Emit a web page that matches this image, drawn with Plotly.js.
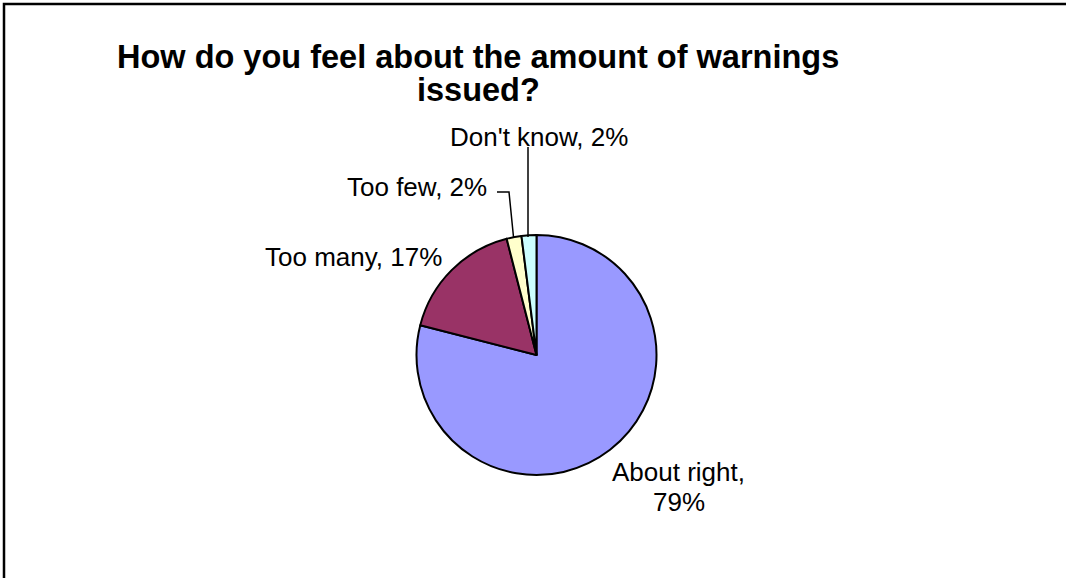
<!DOCTYPE html>
<html>
<head>
<meta charset="utf-8">
<script src="https://cdn.plot.ly/plotly-3.0.1.min.js"></script>
<style>
  html, body { margin: 0; padding: 0; background: #fff; }
  #chart { width: 1066px; height: 578px; }
</style>
</head>
<body>
<div id="chart"></div>
<script>
// Survey answers and their shares (%)
const categories = ["About right", "Too many", "Too few", "Don't know"];
const shares = [79, 17, 2, 2];
const sliceColors = ["#9999FF", "#993366", "#FFFFCC", "#CCFFFF"];
const titleLines = ["How do you feel about the amount of warnings", "issued?"];

const W = 1066, H = 578;
const px = x => x / W;
const py = y => 1 - y / H;

// Pie centre and radius in pixels
const cx = 536.5, cy = 355, r = 120;

// Label placement (pixel centre-line points) per category
const labelPlacement = [
  {lines: 2, x: 678.5, y: 472, dy: 30},           // About right (two lines, centred)
  {lines: 1, x: 443, y: 257, xanchor: "right"},   // Too many
  {lines: 1, x: 488, y: 187, xanchor: "right"},   // Too few
  {lines: 1, x: 449, y: 137, xanchor: "left"}     // Don't know
];

const labelFont = {family: "Liberation Sans, Arial, sans-serif", size: 26, color: "#000"};
const titleFont = {family: "Liberation Sans, Arial, sans-serif", size: 32.5, color: "#000", weight: "bold"};

const annotations = [];
titleLines.forEach((t, i) => {
  annotations.push({
    text: "<b>" + t + "</b>", xref: "paper", yref: "paper",
    x: px(478), y: py([57, 90][i]), xanchor: "center", yanchor: "middle",
    showarrow: false, font: titleFont, borderpad: 0
  });
});

categories.forEach((c, i) => {
  const p = labelPlacement[i];
  if (p.lines === 2) {
    annotations.push({
      text: c + ",", xref: "paper", yref: "paper",
      x: px(p.x), y: py(p.y), xanchor: "center", yanchor: "middle",
      showarrow: false, font: labelFont, borderpad: 0
    });
    annotations.push({
      text: shares[i] + "%", xref: "paper", yref: "paper",
      x: px(p.x), y: py(p.y + p.dy), xanchor: "center", yanchor: "middle",
      showarrow: false, font: labelFont, borderpad: 0
    });
  } else {
    annotations.push({
      text: c + ", " + shares[i] + "%", xref: "paper", yref: "paper",
      x: px(p.x), y: py(p.y), xanchor: p.xanchor, yanchor: "middle",
      showarrow: false, font: labelFont, borderpad: 0
    });
  }
});

// Chart frame and the leader lines for the two thin slices
const leader = {color: "#000", width: 1.5};
const shapes = [
  {type: "rect", xref: "paper", yref: "paper",
   x0: px(4), x1: px(1075), y0: py(4), y1: py(590),
   line: {color: "#000", width: 2.5}, fillcolor: "rgba(0,0,0,0)"},
  {type: "path", xref: "paper", yref: "paper",
   path: `M ${px(497)} ${py(192)} L ${px(509)} ${py(192)} L ${px(513.5)} ${py(237)}`,
   line: leader},
  {type: "line", xref: "paper", yref: "paper",
   x0: px(528), x1: px(528), y0: py(147), y1: py(237), line: leader}
];

const trace = {
  type: "pie",
  labels: categories,
  values: shares,
  sort: false,
  direction: "clockwise",
  rotation: 0,
  textinfo: "none",
  hoverinfo: "label+percent",
  marker: {colors: sliceColors, line: {color: "#000", width: 2}},
  domain: {x: [px(cx - r), px(cx + r)], y: [py(cy + r), py(cy - r)]},
  showlegend: false
};

const layout = {
  width: W, height: H,
  margin: {l: 0, r: 0, t: 0, b: 0},
  paper_bgcolor: "#fff",
  showlegend: false,
  annotations: annotations,
  shapes: shapes
};

Plotly.newPlot("chart", [trace], layout, {staticPlot: true, displayModeBar: false});
</script>
</body>
</html>
